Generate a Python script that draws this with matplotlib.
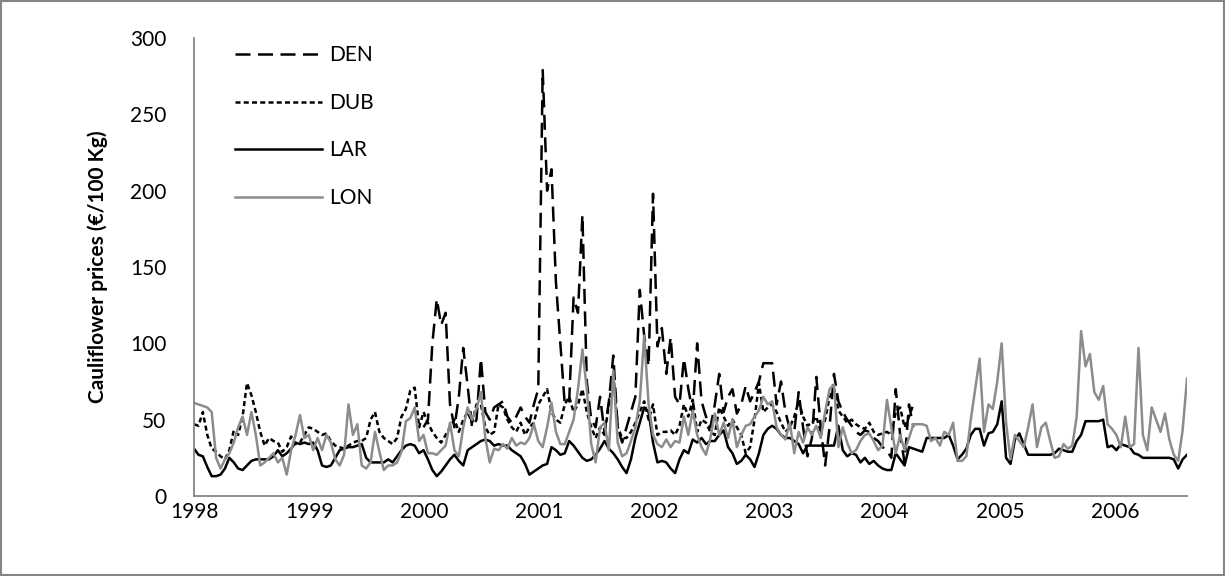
import numpy as np
import pandas as pd
import matplotlib
matplotlib.use("Agg")
import matplotlib.pyplot as plt
import matplotlib.dates as mdates
from matplotlib.patches import Rectangle

plt.rcParams['font.family'] = ['Lato', 'DejaVu Sans']

# fortnightly prices, one row per year (1998 ... 2006)
den = ([None] * 52 +
       [45, 50, 100, 129, 112, 120, 60, 45, 65, 97, 72, 45, 50, 90, 55, 50, 58, 60, 62, 52, 48, 52, 58, 52, 48, 60] +
       [70, 279, 200, 214, 140, 100, 60, 62, 130, 120, 184, 75, 50, 45, 65, 42, 62, 92, 45, 35, 45, 55, 65, 135, 105, 85] +
       [198, 98, 110, 80, 104, 65, 60, 90, 70, 55, 100, 62, 52, 45, 60, 80, 55, 65, 70, 54, 60, 72, 62, 68, 75, 87] +
       [87, 87, 60, 75, 55, 44, 42, 68, 45, 26, 38, 78, 45, 20, 45, 80, 62, 55, 50, 46, 42, 40, 43, 42, 38, 36] +
       [32, 30, 25, 70, 40, 22, 60, 45] + [None] * 62)

dub = ([47, 46, 55, 40, 31, 29, 26, 24, 30, 43, 40, 52, 74, 66, 55, 42, 33, 38, 36, 35, 29, 32, 39, 34, 35, 40] +
       [45, 44, 42, 40, 41, 36, 33, 32, 31, 33, 35, 36, 36, 38, 50, 55, 42, 38, 36, 34, 38, 52, 57, 69, 71, 45] +
       [55, 48, 42, 38, 35, 40, 45, 50, 42, 50, 55, 48, 60, 60, 45, 40, 42, 60, 58, 50, 45, 42, 48, 40, 45, 48] +
       [60, 65, 70, 55, 50, 48, 60, 65, 55, 60, 70, 55, 45, 38, 45, 40, 60, 80, 45, 38, 38, 42, 48, 55, 62, 50] +
       [60, 40, 42, 42, 43, 40, 46, 60, 52, 63, 42, 50, 48, 42, 40, 58, 52, 46, 50, 45, 40, 28, 32, 50, 74, 55] +
       [58, 60, 55, 48, 42, 45, 52, 62, 52, 46, 48, 52, 42, 50, 65, 70, 56, 52, 48, 50, 47, 45, 44, 48, 42, 40] +
       [41, 42, 40, 55, 58, 45, 52, 60] + [None] * 62)

lar = ([31, 27, 26, 19, 13, 13, 14, 18, 25, 22, 18, 17, 20, 23, 24, 24, 24, 24, 26, 30, 26, 28, 31, 35, 34, 35] +
       [34, 35, 30, 20, 19, 20, 25, 30, 31, 32, 32, 33, 34, 25, 22, 22, 22, 22, 24, 22, 26, 30, 33, 34, 33, 28] +
       [30, 24, 17, 13, 16, 20, 24, 27, 23, 20, 30, 32, 34, 36, 37, 36, 33, 34, 33, 33, 30, 28, 26, 21, 14, 16] +
       [18, 20, 21, 32, 30, 27, 28, 36, 33, 29, 25, 23, 24, 27, 31, 36, 31, 28, 24, 19, 15, 24, 38, 48, 58, 55] +
       [35, 22, 23, 22, 18, 15, 24, 30, 28, 37, 35, 38, 34, 36, 36, 40, 43, 32, 28, 21, 23, 27, 24, 19, 28, 40] +
       [44, 46, 44, 40, 38, 38, 36, 34, 28, 33, 33, 33, 33, 33, 33, 33, 46, 30, 26, 28, 27, 22, 25, 21, 23, 20] +
       [18, 17, 17, 28, 24, 20, 32, 31, 30, 29, 38, 38, 38, 38, 38, 40, 33, 24, 27, 31, 40, 44, 44, 33, 41, 42] +
       [47, 62, 25, 21, 37, 41, 34, 27, 27, 27, 27, 27, 27, 28, 31, 30, 29, 29, 36, 40, 49, 49, 49, 49, 50, 32] +
       [33, 30, 34, 33, 32, 28, 27, 25, 25, 25, 25, 25, 25, 25, 24, 18, 24, 27])

lon = ([61, 60, 59, 58, 55, 25, 18, 24, 28, 35, 45, 52, 40, 55, 40, 20, 22, 25, 28, 22, 25, 14, 30, 40, 53, 38] +
       [40, 30, 38, 30, 40, 35, 24, 20, 27, 60, 40, 47, 20, 18, 22, 42, 29, 17, 20, 20, 22, 29, 49, 51, 58, 36] +
       [40, 28, 28, 27, 30, 33, 48, 30, 26, 45, 58, 50, 57, 68, 38, 22, 31, 30, 34, 31, 38, 33, 35, 34, 38, 47] +
       [36, 32, 45, 61, 42, 34, 34, 42, 50, 70, 96, 70, 34, 22, 45, 48, 30, 82, 35, 26, 28, 36, 45, 62, 105, 60] +
       [40, 34, 32, 37, 32, 36, 35, 52, 40, 56, 40, 32, 27, 38, 54, 40, 48, 38, 50, 32, 40, 46, 47, 52, 56, 65] +
       [60, 62, 45, 40, 37, 48, 28, 42, 35, 45, 40, 46, 38, 55, 70, 73, 32, 45, 35, 28, 30, 36, 40, 41, 36, 30] +
       [33, 63, 45, 28, 40, 30, 38, 47, 47, 47, 46, 36, 38, 33, 42, 40, 48, 23, 23, 26, 50, 70, 90, 42, 60, 57] +
       [75, 100, 48, 24, 40, 36, 32, 45, 60, 32, 45, 48, 36, 25, 26, 34, 31, 33, 52, 108, 85, 93, 68, 63, 72, 47] +
       [44, 40, 32, 52, 32, 34, 97, 40, 30, 58, 50, 42, 54, 37, 27, 23, 43, 77])

dates = pd.date_range('1998-01-01', periods=len(lar), freq='14D')

def arr(v):
    return np.array([np.nan if x is None else x for x in v], dtype=float)

fig = plt.figure(figsize=(12.25, 5.76), dpi=100)
ax = fig.add_axes([0.1584, 0.1389, 0.8106, 0.7951])

ax.plot(dates, arr(den), color='black', lw=1.8, linestyle=(0, (6, 3)), label='DEN')
ax.plot(dates, arr(dub), color='black', lw=1.8, linestyle=(0, (2, 1.3)), label='DUB')
ax.plot(dates, arr(lar), color='black', lw=1.8, label='LAR')
ax.plot(dates, arr(lon), color='#8c8c8c', lw=1.8, label='LON')

ax.set_ylim(0, 300)
ax.set_yticks(range(0, 301, 50))
ax.set_xlim(dates[0], dates[-1])
ax.xaxis.set_major_locator(mdates.YearLocator())
ax.xaxis.set_major_formatter(mdates.DateFormatter('%Y'))
ax.tick_params(axis='both', length=0, labelsize=15)
ax.tick_params(axis='y', pad=20)
ax.tick_params(axis='x', pad=4)

for s in ['top', 'right']:
    ax.spines[s].set_visible(False)
for s in ['left', 'bottom']:
    ax.spines[s].set_color('#868686')
    ax.spines[s].set_linewidth(1.3)

ax.set_ylabel('Cauliflower prices (€/100 Kg)', fontsize=15, fontweight='bold', labelpad=16)

ax.legend(loc='upper left', bbox_to_anchor=(0.022, 1.025), frameon=False, fontsize=15,
          handlelength=4.2, labelspacing=1.32, handletextpad=0.35)

fig.add_artist(Rectangle((0.001, 0.002), 0.998, 0.996, transform=fig.transFigure,
                         fill=False, ec='#868686', lw=1.5))

fig.savefig('out.png', dpi=100)
